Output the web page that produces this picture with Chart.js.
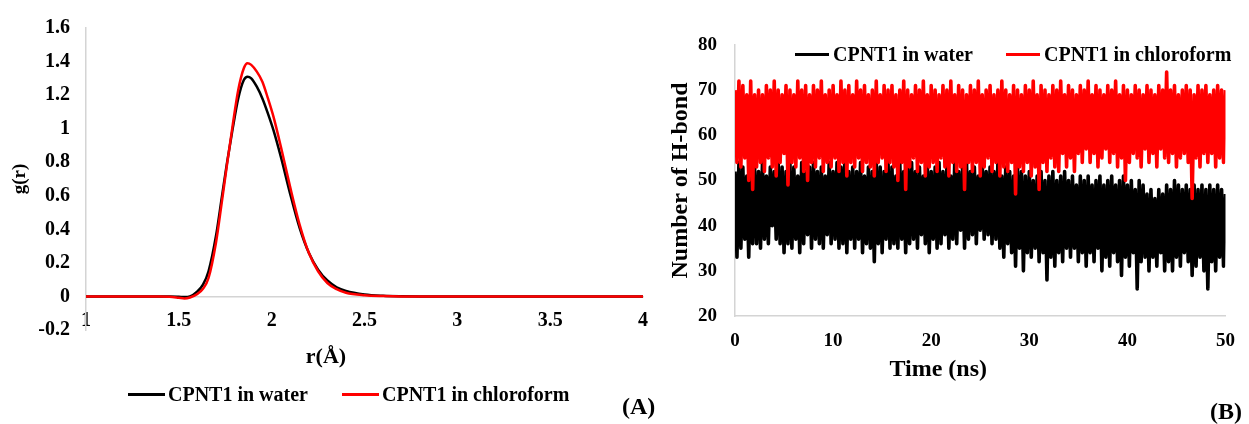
<!DOCTYPE html>
<html>
<head>
<meta charset="utf-8">
<script src="https://cdn.jsdelivr.net/npm/chart.js@4.4.1/dist/chart.umd.min.js"></script>
<style>
  body { margin: 0; background: #fff; width: 1249px; height: 424px; position: relative; overflow: hidden;
         font-family: 'Liberation Serif', 'Times New Roman', serif; font-weight: bold; color: #000; }
  canvas { position: absolute; top: 0; }
  #rdf { left: 0; }
  #hbond { left: 655px; }
  .legend { position: absolute; display: flex; align-items: center; font-size: 20px; white-space: nowrap; }
  .legend .item { display: flex; align-items: center; }
  .legend .swatch { display: inline-block; height: 3px; }
  .panel { position: absolute; font-size: 24px; }
</style>
</head>
<body>
<canvas id="rdf" width="660" height="424"></canvas>
<canvas id="hbond" width="594" height="424"></canvas>
<div id="legA" class="legend" style="left:128px; top:383px;"></div>
<div id="legB" class="legend" style="left:795px; top:43px;"></div>
<div class="panel" style="left:622px; top:393px;">(A)</div>
<div class="panel" style="left:1210px; top:398px;">(B)</div>
<script>
// (A) radial distribution function
const rA = [1.0, 1.1, 1.2, 1.3, 1.4, 1.45, 1.5, 1.53, 1.56, 1.6, 1.63, 1.66, 1.7, 1.73, 1.76, 1.79,
  1.82, 1.85, 1.87, 1.89, 1.92, 1.95, 1.98, 2.01, 2.05, 2.1, 2.15, 2.2, 2.25, 2.3, 2.35, 2.4,
  2.5, 2.6, 2.7, 2.8, 3.0, 3.5, 4.0];
const gWater = [0, 0, 0, 0, 0, 0, -0.002, -0.004, 0, 0.03, 0.07, 0.15, 0.36, 0.58, 0.8, 1.0,
  1.18, 1.29, 1.31, 1.3, 1.25, 1.18, 1.09, 0.99, 0.83, 0.61, 0.41, 0.26, 0.16, 0.095, 0.055, 0.033,
  0.012, 0.004, 0.001, 0, 0, 0, 0];
const gChloro = [0, 0, 0, 0, 0, -0.002, -0.008, -0.012, -0.006, 0.015, 0.045, 0.11, 0.32, 0.55, 0.79, 1.02,
  1.23, 1.36, 1.39, 1.38, 1.34, 1.28, 1.18, 1.07, 0.89, 0.65, 0.43, 0.26, 0.15, 0.08, 0.043, 0.022,
  0.007, 0.002, 0, 0, 0, 0, 0];

// (B) number of H-bonds, one value every 0.2 ns
const hbWater = [
  52, 33, 54, 35, 53, 37, 51, 33, 54, 36,
  53, 36, 52, 35, 54, 37, 51, 36, 53, 40,
  52, 37, 54, 36, 53, 34, 52, 36, 54, 35,
  53, 37, 51, 34, 54, 36, 52, 38, 53, 35,
  54, 37, 52, 36, 53, 35, 51, 38, 54, 36,
  52, 37, 54, 35, 53, 36, 55, 34, 52, 37,
  53, 35, 52, 37, 54, 34, 51, 36, 53, 35,
  52, 32, 54, 36, 53, 34, 52, 37, 54, 35,
  53, 36, 51, 35, 54, 37, 52, 34, 53, 36,
  54, 37, 52, 35, 53, 38, 51, 36, 54, 34,
  52, 37, 53, 35, 54, 36, 52, 38, 53, 35,
  51, 37, 54, 36, 52, 39, 53, 35, 54, 37,
  52, 38, 53, 36, 51, 39, 54, 37, 52, 38,
  53, 36, 52, 37, 54, 35, 51, 33, 53, 36,
  52, 34, 51, 31, 53, 35, 52, 30, 51, 34,
  52, 33, 50, 35, 51, 32, 52, 34, 50, 28,
  51, 33, 52, 31, 50, 34, 51, 32, 52, 35,
  50, 33, 51, 35, 49, 32, 51, 34, 50, 31,
  51, 34, 49, 32, 50, 35, 51, 30, 49, 33,
  50, 31, 51, 34, 49, 32, 50, 29, 51, 33,
  49, 31, 50, 34, 48, 26, 50, 32, 49, 33,
  47, 30, 48, 33, 46, 31, 48, 34, 47, 30,
  49, 32, 48, 30, 50, 33, 49, 31, 48, 34,
  49, 32, 48, 29, 49, 31, 48, 33, 49, 30,
  48, 26, 49, 32, 48, 30, 49, 33, 48, 31,
  47];
const hbChloro = [
  70, 54, 72, 53, 71, 55, 69, 50, 72, 48,
  69, 53, 70, 54, 69, 52, 71, 55, 70, 53,
  72, 51, 70, 54, 69, 56, 71, 49, 70, 54,
  69, 53, 72, 55, 70, 52, 71, 50, 69, 54,
  71, 53, 70, 55, 72, 52, 69, 54, 70, 53,
  71, 55, 69, 52, 72, 54, 70, 51, 71, 54,
  69, 53, 72, 55, 70, 52, 71, 54, 69, 53,
  70, 51, 72, 54, 69, 55, 71, 52, 70, 54,
  71, 53, 69, 50, 70, 54, 72, 48, 70, 53,
  69, 55, 71, 52, 70, 54, 72, 51, 69, 53,
  71, 54, 70, 52, 69, 55, 71, 53, 70, 51,
  72, 54, 69, 52, 71, 53, 70, 48, 69, 54,
  71, 52, 70, 54, 72, 51, 69, 53, 70, 55,
  71, 52, 69, 54, 70, 51, 72, 53, 70, 52,
  69, 54, 71, 47, 70, 53, 69, 52, 71, 54,
  70, 51, 72, 53, 69, 48, 71, 54, 70, 52,
  69, 55, 71, 53, 70, 52, 72, 56, 69, 53,
  71, 55, 70, 52, 69, 56, 71, 54, 70, 57,
  72, 54, 69, 56, 71, 53, 70, 55, 69, 57,
  71, 54, 70, 56, 72, 53, 69, 55, 71, 50,
  70, 54, 69, 56, 71, 55, 70, 53, 69, 57,
  71, 54, 70, 56, 69, 53, 71, 57, 70, 55,
  74, 54, 70, 56, 71, 53, 69, 55, 70, 56,
  71, 54, 70, 46, 69, 55, 71, 53, 70, 56,
  71, 54, 69, 56, 70, 53, 71, 55, 70, 54,
  70];
const timeNs = hbWater.map((_, i) => i * 0.2);

const serif = "'Liberation Serif', 'Times New Roman', serif";
const axisGrey = '#d4d4d4';
const plainNum = v => String(Math.round(v * 10) / 10);

// legend drawn as html so it can sit where the original put it
const htmlLegend = {
  id: 'htmlLegend',
  afterUpdate(chart, args, opts) {
    const box = document.getElementById(opts.containerID);
    box.innerHTML = '';
    const items = chart.options.plugins.legend.labels.generateLabels(chart)
      .sort((a, b) => a.datasetIndex - b.datasetIndex);
    items.forEach((item, i) => {
      const el = document.createElement('span');
      el.className = 'item';
      if (i > 0) el.style.marginLeft = opts.gap + 'px';
      const sw = document.createElement('span');
      sw.className = 'swatch';
      sw.style.width = opts.swatch + 'px';
      sw.style.marginRight = opts.space + 'px';
      sw.style.background = item.strokeStyle;
      el.appendChild(sw);
      el.appendChild(document.createTextNode(item.text));
      box.appendChild(el);
    });
  }
};

new Chart(document.getElementById('rdf'), {
  type: 'line',
  data: {
    labels: rA,
    datasets: [
      { label: 'CPNT1 in water', data: gWater, borderColor: '#000000', borderWidth: 2.5, order: 1 },
      { label: 'CPNT1 in chloroform', data: gChloro, borderColor: '#ff0000', borderWidth: 2.5, order: 0 }
    ]
  },
  options: {
    responsive: false,
    animation: false,
    layout: { padding: { top: 24, right: 8, bottom: 94, left: 0 } },
    elements: { point: { radius: 0 }, line: { cubicInterpolationMode: 'monotone' } },
    scales: {
      x: {
        type: 'linear', position: { y: 0 }, min: 1, max: 4,
        grid: { display: false, drawTicks: false },
        border: { color: axisGrey, width: 1.5 },
        ticks: { stepSize: 0.5, padding: 12, maxRotation: 0, autoSkip: false, color: '#000', callback: plainNum,
                 font: { family: serif, size: 20, weight: 'bold' } },
        title: { display: true, text: 'r(Å)' + ' '.repeat(14), color: '#000', padding: { top: 0, bottom: 0 },
                 font: { family: serif, size: 22, weight: 'bold' } }
      },
      y: {
        min: -0.2, max: 1.6,
        grid: { display: false, drawTicks: false },
        border: { color: axisGrey, width: 1.5 },
        ticks: { stepSize: 0.2, padding: 16, color: '#000', callback: plainNum,
                 font: { family: serif, size: 20, weight: 'bold' } },
        title: { display: true, text: 'g(r)', color: '#000', padding: { top: 9, bottom: 0 },
                 font: { family: serif, size: 19, weight: 'bold' } },
        afterFit: s => { s.width = 86; }
      }
    },
    plugins: {
      legend: { display: false },
      tooltip: { enabled: false },
      htmlLegend: { containerID: 'legA', swatch: 37, space: 3, gap: 34 }
    }
  },
  plugins: [htmlLegend]
});

new Chart(document.getElementById('hbond'), {
  type: 'line',
  data: {
    labels: timeNs,
    datasets: [
      { label: 'CPNT1 in water', data: hbWater, borderColor: '#000000', borderWidth: 3.6,
        borderJoinStyle: 'round', order: 1 },
      { label: 'CPNT1 in chloroform', data: hbChloro, borderColor: '#ff0000', borderWidth: 3.6,
        borderJoinStyle: 'round', order: 0 }
    ]
  },
  options: {
    responsive: false,
    animation: false,
    layout: { padding: { top: 45, right: 12, bottom: 0, left: 0 } },
    elements: { point: { radius: 0 }, line: { tension: 0 } },
    scales: {
      x: {
        type: 'linear', min: 0, max: 50,
        grid: { display: false, drawTicks: false },
        border: { color: axisGrey, width: 1.5 },
        ticks: { stepSize: 10, padding: 14, maxRotation: 0, color: '#000',
                 font: { family: serif, size: 19, weight: 'bold' } },
        title: { display: true, text: 'Time (ns)' + ' '.repeat(14), color: '#000', padding: { top: 0, bottom: 40 },
                 font: { family: serif, size: 24, weight: 'bold' } },
        afterFit: s => { s.height = 108; }
      },
      y: {
        min: 20, max: 80,
        grid: { display: false, drawTicks: false },
        border: { color: axisGrey, width: 1.5 },
        ticks: { stepSize: 10, padding: 18, color: '#000', font: { family: serif, size: 19, weight: 'bold' } },
        title: { display: true, text: 'Number of H-bond', color: '#000', padding: { top: 11, bottom: 0 },
                 font: { family: serif, size: 24, weight: 'bold' } },
        afterFit: s => { s.width = 80; }
      }
    },
    plugins: {
      legend: { display: false },
      tooltip: { enabled: false },
      htmlLegend: { containerID: 'legB', swatch: 34, space: 4, gap: 33 }
    }
  },
  plugins: [htmlLegend]
});
</script>
</body>
</html>
